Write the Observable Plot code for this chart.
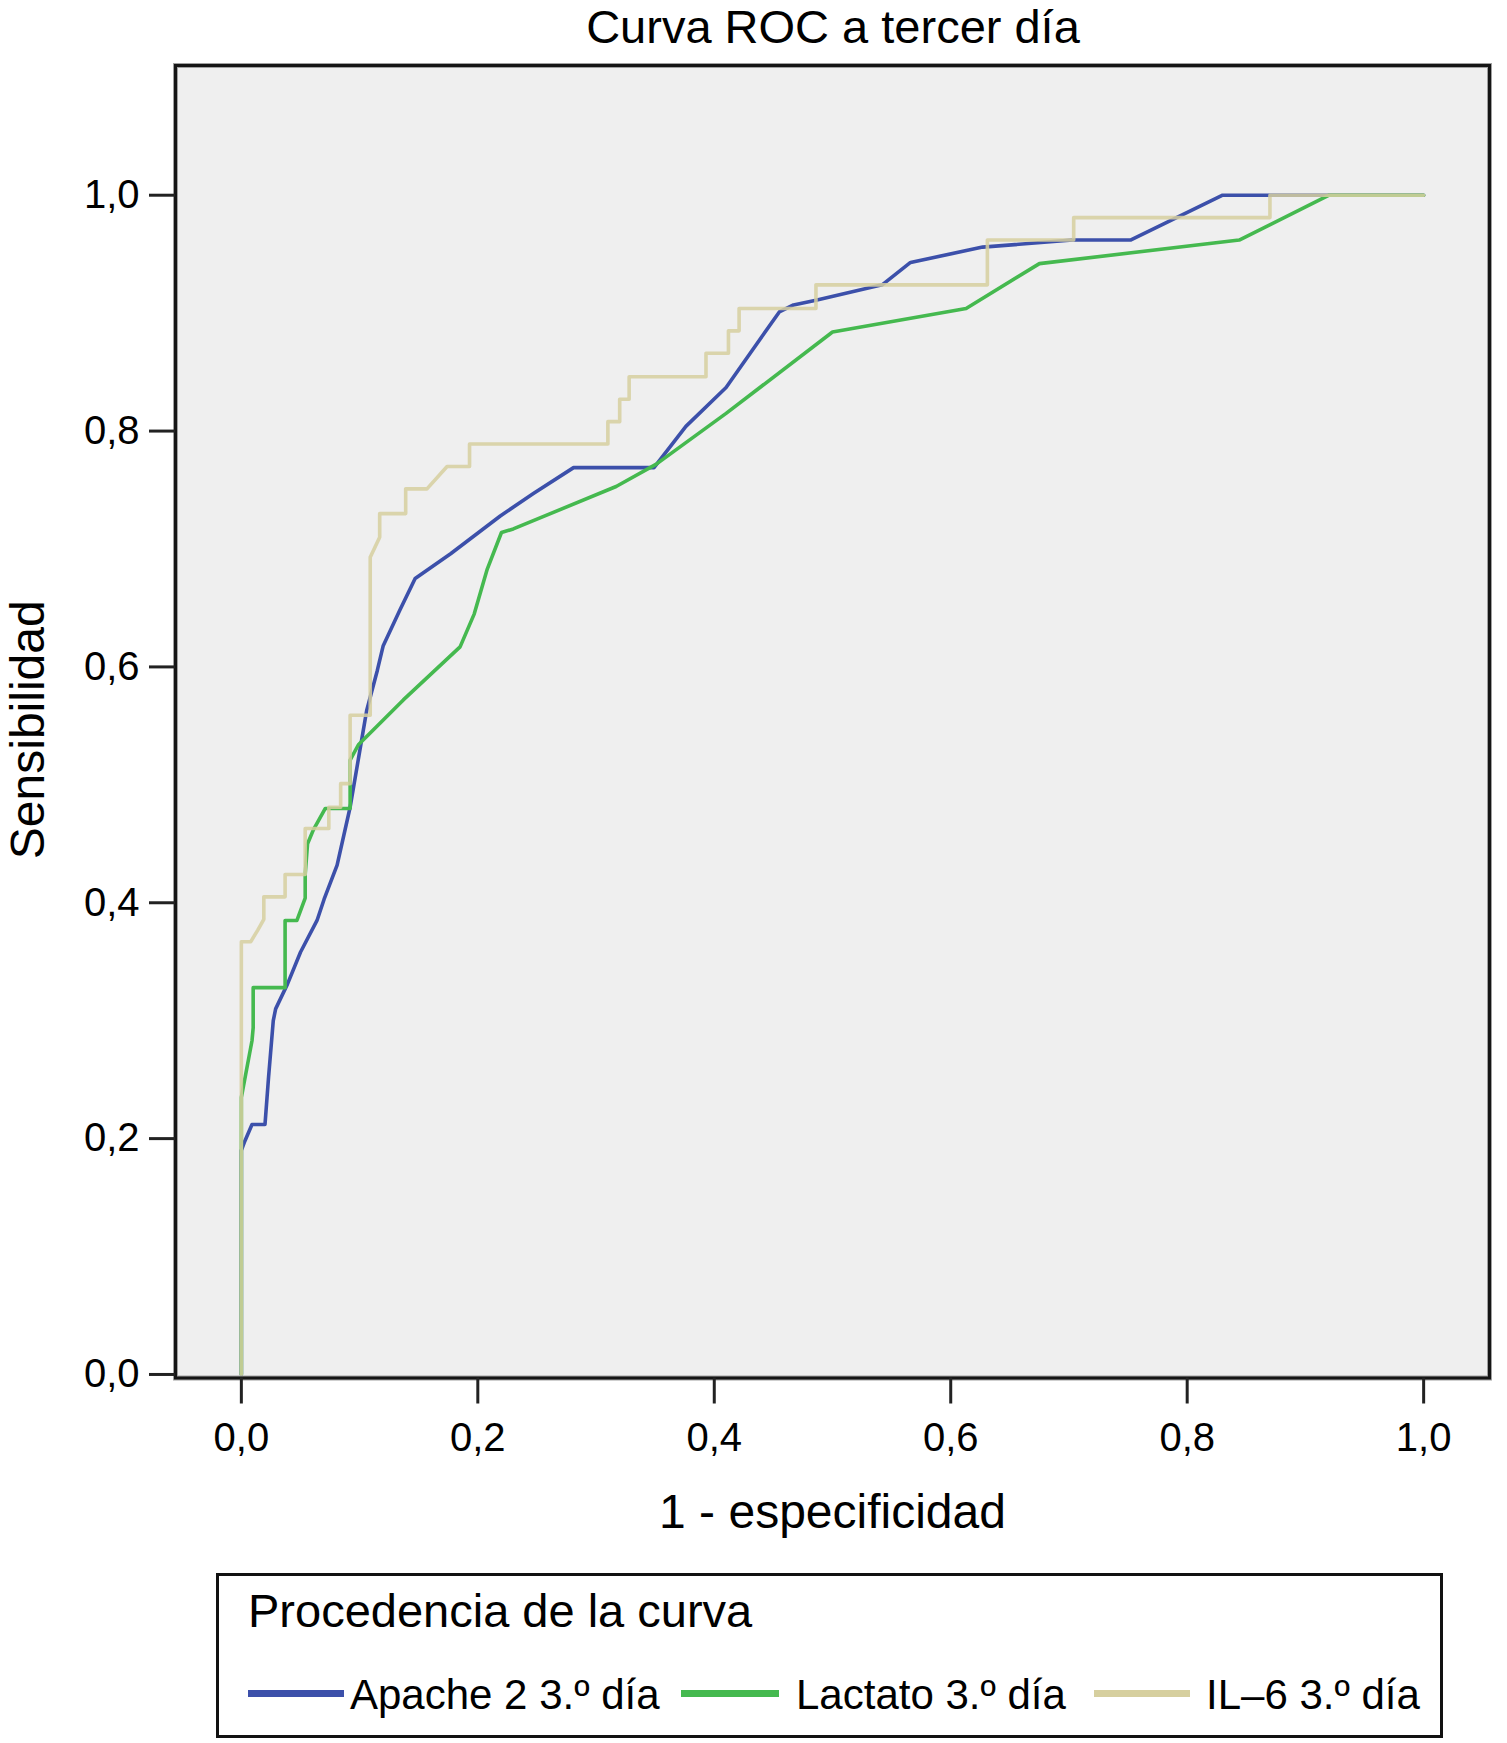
<!DOCTYPE html>
<html>
<head>
<meta charset="utf-8">
<script src="https://cdn.jsdelivr.net/npm/d3@7"></script>
<script src="https://cdn.jsdelivr.net/npm/@observablehq/plot@0.6"></script>
<style>
  body { margin: 0; background: #fff; font-family: "Liberation Sans", Arial, sans-serif; color: #000; }
  #wrap { position: relative; width: 1507px; height: 1743px; overflow: hidden; }
  #title { position: absolute; left: 175px; top: 0px; width: 1316px; text-align: center; font-size: 47px; line-height: 54px; }
  #chart { position: absolute; left: 0; top: 60px; }
  #legend { position: absolute; left: 216px; top: 1573px; width: 1227px; height: 165px; box-sizing: border-box; border: 3px solid #111; background: #fff; }
  #legend .head { position: absolute; left: 29px; top: 11px; font-size: 47px; line-height: 47px; white-space: nowrap; }
  #legend .sw { position: absolute; height: 7px; top: 114px; }
  #legend .lab { position: absolute; top: 98px; font-size: 42px; line-height: 42px; white-space: nowrap; }
</style>
</head>
<body>
<div id="wrap">
  <div id="title"></div>
  <div id="chart"></div>
  <div id="legend"></div>
</div>
<script>
// ---- data ----
const titleText = "Curva ROC a tercer día";
const xLabel = "1 - especificidad";
const yLabel = "Sensibilidad";
const legendTitle = "Procedencia de la curva";
const seriesNames = ["Apache 2 3.º día", "Lactato 3.º día", "IL–6 3.º día"];
const seriesColors = ["#3c50aa", "#45b94f", "#d6cf9f"];
const xTicks = [0, 0.2, 0.4, 0.6, 0.8, 1.0];
const yTicks = [0, 0.2, 0.4, 0.6, 0.8, 1.0];

const apacheFpr = [0, 0, 0.003, 0.009, 0.020, 0.023, 0.027, 0.029, 0.039, 0.050, 0.064, 0.070, 0.081, 0.092, 0.099, 0.106, 0.115, 0.120, 0.134, 0.147, 0.177, 0.219, 0.247, 0.281, 0.349, 0.376, 0.410, 0.455, 0.467, 0.486, 0.542, 0.566, 0.627, 0.703, 0.752, 0.830, 1.0];
const apacheSens = [0, 0.19, 0.198, 0.212, 0.212, 0.252, 0.30, 0.31, 0.331, 0.358, 0.385, 0.403, 0.432, 0.481, 0.522, 0.563, 0.597, 0.618, 0.648, 0.675, 0.696, 0.728, 0.747, 0.769, 0.769, 0.804, 0.837, 0.901, 0.907, 0.911, 0.924, 0.943, 0.956, 0.962, 0.962, 1.0, 1.0];

const lactatoFpr = [0, 0, 0.009, 0.010, 0.010, 0.037, 0.037, 0.047, 0.054, 0.054, 0.056, 0.061, 0.071, 0.092, 0.092, 0.099, 0.137, 0.185, 0.197, 0.208, 0.220, 0.230, 0.317, 0.351, 0.410, 0.500, 0.613, 0.675, 0.844, 0.920, 1.0];
const lactatoSens = [0, 0.235, 0.283, 0.294, 0.328, 0.328, 0.385, 0.385, 0.404, 0.424, 0.450, 0.462, 0.480, 0.480, 0.521, 0.534, 0.572, 0.617, 0.645, 0.683, 0.714, 0.717, 0.753, 0.772, 0.815, 0.884, 0.904, 0.942, 0.962, 1.0, 1.0];

const il6Fpr = [0, 0, 0.008, 0.014, 0.019, 0.019, 0.037, 0.037, 0.054, 0.054, 0.074, 0.074, 0.084, 0.084, 0.092, 0.092, 0.109, 0.109, 0.117, 0.117, 0.139, 0.139, 0.157, 0.174, 0.193, 0.193, 0.310, 0.310, 0.320, 0.320, 0.328, 0.328, 0.393, 0.393, 0.412, 0.412, 0.421, 0.421, 0.486, 0.486, 0.631, 0.631, 0.704, 0.704, 0.870, 0.870, 1.0];
const il6Sens = [0, 0.367, 0.367, 0.377, 0.386, 0.405, 0.405, 0.424, 0.424, 0.463, 0.463, 0.481, 0.481, 0.501, 0.501, 0.559, 0.559, 0.693, 0.710, 0.730, 0.730, 0.751, 0.751, 0.770, 0.770, 0.789, 0.789, 0.808, 0.808, 0.827, 0.827, 0.846, 0.846, 0.866, 0.866, 0.885, 0.885, 0.904, 0.904, 0.924, 0.924, 0.962, 0.962, 0.981, 0.981, 1.0, 1.0];

// ---- build rows ----
const toRows = (xs, ys, s) => xs.map((x, i) => ({fpr: x, sens: ys[i], series: s}));
const apacheRows = toRows(apacheFpr, apacheSens, seriesNames[0]);
const lactatoRows = toRows(lactatoFpr, lactatoSens, seriesNames[1]);
const il6Rows = toRows(il6Fpr, il6Sens, seriesNames[2]);

const fmt = d => d.toFixed(1).replace(".", ",");
const font = "'Liberation Sans', Arial, sans-serif";

const chart = Plot.plot({
  width: 1507,
  height: 1500,
  marginTop: 5,
  marginBottom: 182.5,
  marginLeft: 175,
  marginRight: 18,
  style: {fontFamily: font, background: "transparent", color: "#000", overflow: "visible"},
  x: {domain: [-0.0557, 1.0557]},
  y: {domain: [-0.003, 1.110]},
  marks: [
    Plot.frame({fill: "#efefef", stroke: "none"}),
    Plot.line(apacheRows, {x: "fpr", y: "sens", stroke: seriesColors[0], strokeWidth: 3.6}),
    Plot.line(lactatoRows, {x: "fpr", y: "sens", stroke: seriesColors[1], strokeWidth: 3.6}),
    Plot.line(il6Rows, {x: "fpr", y: "sens", stroke: seriesColors[2], strokeWidth: 3.6, strokeOpacity: 0.85}),
    Plot.frame({stroke: "#a0a0a0", strokeWidth: 5}),
    Plot.frame({stroke: "#151515", strokeWidth: 3}),
    Plot.axisX({ticks: xTicks, tickFormat: fmt, tickSize: 26, tickPadding: 19, fontSize: 40, stroke: "#222", strokeWidth: 3, label: null}),
    Plot.axisY({ticks: yTicks, tickFormat: fmt, tickSize: 26, tickPadding: 10, fontSize: 40, stroke: "#222", strokeWidth: 3, label: null}),
    Plot.text([xLabel], {text: d => d, frameAnchor: "bottom", textAnchor: "middle", lineAnchor: "bottom", dy: 150, fontSize: 48}),
    Plot.text([yLabel], {text: d => d, frameAnchor: "left", textAnchor: "middle", lineAnchor: "middle", rotate: -90, dx: -147, dy: 8, fontSize: 48})
  ]
});
document.getElementById("chart").appendChild(chart);
document.getElementById("title").textContent = titleText;

// ---- legend ----
const legend = document.getElementById("legend");
const head = document.createElement("div");
head.className = "head";
head.textContent = legendTitle;
legend.appendChild(head);
const swLeft = [29, 462, 875];
const swWidth = [96, 98, 96];
const labLeft = [131, 577, 987];
seriesNames.forEach((name, i) => {
  const sw = document.createElement("div");
  sw.className = "sw";
  sw.style.left = swLeft[i] + "px";
  sw.style.width = swWidth[i] + "px";
  sw.style.background = seriesColors[i];
  legend.appendChild(sw);
  const lab = document.createElement("div");
  lab.className = "lab";
  lab.style.left = labLeft[i] + "px";
  lab.textContent = name;
  legend.appendChild(lab);
});
</script>
</body>
</html>
